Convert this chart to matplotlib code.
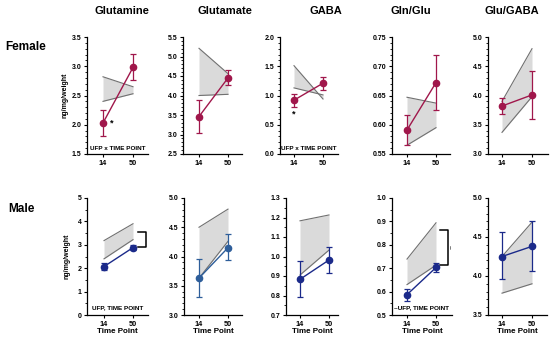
import matplotlib
matplotlib.use("Agg")
import matplotlib.pyplot as plt
from matplotlib.ticker import MultipleLocator, AutoMinorLocator, FormatStrFormatter

plt.rcParams['font.family'] = ['Liberation Sans', 'DejaVu Sans']

# ---------------- data ----------------
metabolites = ["Glutamine", "Glutamate", "GABA", "Gln/Glu", "Glu/GABA"]
time_points = ["14", "50"]

female_mean = [[2.03, 2.98], [3.46, 4.45], [0.92, 1.21], [0.591, 0.672], [3.82, 4.01]]
female_lo = [[1.81, 2.76], [3.05, 4.26], [0.81, 1.10], [0.566, 0.626], [3.68, 3.60]]
female_hi = [[2.25, 3.21], [3.89, 4.65], [1.02, 1.32], [0.617, 0.719], [3.95, 4.42]]
female_band_lo = [[2.40, 2.53], [4.00, 4.03], [1.13, 1.01], [0.565, 0.595], [3.37, 3.98]]
female_band_hi = [[2.82, 2.65], [5.21, 4.56], [1.51, 0.94], [0.647, 0.637], [3.90, 4.80]]

male_mean = [[2.07, 2.88], [3.63, 4.15], [0.883, 0.982], [0.587, 0.703], [4.25, 4.38]]
male_lo = [[1.91, 2.78], [3.30, 3.94], [0.793, 0.915], [0.561, 0.683], [3.96, 4.06]]
male_hi = [[2.23, 2.98], [3.96, 4.38], [0.977, 1.05], [0.613, 0.724], [4.56, 4.71]]
male_band_lo = [[2.40, 3.22], [3.63, 4.26], [0.905, 1.033], [0.630, 0.713], [3.78, 3.90]]
male_band_hi = [[3.18, 3.90], [4.50, 4.81], [1.183, 1.213], [0.739, 0.894], [4.25, 4.69]]

female_ylim = [(1.5, 3.5), (2.5, 5.5), (0.0, 2.0), (0.55, 0.75), (3.0, 5.0)]
female_ystep = [0.5, 0.5, 0.5, 0.05, 0.5]
female_fmt = ['%.1f', '%.1f', '%.1f', '%.2f', '%.1f']
male_ylim = [(0, 5), (3.0, 5.0), (0.7, 1.3), (0.5, 1.0), (3.5, 5.0)]
male_ystep = [1, 0.5, 0.1, 0.1, 0.5]
male_fmt = ['%d', '%.1f', '%.1f', '%.1f', '%.1f']

female_note = ["UFP x TIME POINT", None, "UFP x TIME POINT", None, None]
male_note = ["UFP, TIME POINT", None, None, "~UFP, TIME POINT", None]

# ---------------- layout (pixels) ----------------
W, H = 550, 339
fig = plt.figure(figsize=(W / 100, H / 100), dpi=100)

# left, right, x14, x50
top_pos = [(87, 148, 103, 133), (183, 242, 199, 228), (280, 338, 294, 323),
           (392, 450, 407, 436), (488, 548, 502, 532)]
bot_pos = [(87, 148, 104, 133), (184, 242, 199, 228), (286, 338, 300, 329),
           (392, 452, 407, 436), (488, 547, 502, 532)]
top_y = (37, 154)
bot_y = (198, 315)

fcol = '#A0174B'
mcols = ['#1B2A8A', '#2E5E9A', '#1B2A8A', '#1B2A8A', '#1B2A8A']
band_face = '#DADADA'
band_edge = '#707070'


def make_ax(pos, yrange):
    l, r, x14, x50 = pos
    t, b = yrange
    ax = fig.add_axes([l / W, 1 - b / H, (r - l) / W, (b - t) / H])
    span = x50 - x14
    ax.set_xlim((l - x14) / span, (r - x14) / span)
    return ax


def style(ax, ylim, step, fmt):
    ax.set_ylim(*ylim)
    ax.yaxis.set_major_locator(MultipleLocator(step))
    ax.yaxis.set_minor_locator(AutoMinorLocator(5 if step in (0.5, 0.05) else 2))
    ax.yaxis.set_major_formatter(FormatStrFormatter(fmt))
    ax.set_xticks([0, 1])
    ax.set_xticklabels(time_points)
    for s in ['top', 'right']:
        ax.spines[s].set_visible(False)
    for s in ['left', 'bottom']:
        ax.spines[s].set_linewidth(0.9)
    ax.tick_params(axis='both', which='major', length=2.5, width=0.8, pad=1.5,
                   labelsize=5)
    ax.tick_params(axis='y', which='minor', length=1.3, width=0.6)
    ax.tick_params(axis='x', labelsize=5.3)
    for lab in ax.get_xticklabels() + ax.get_yticklabels():
        lab.set_fontweight('bold')


def draw(ax, mean, lo, hi, blo, bhi, col):
    x = [0, 1]
    ax.fill_between(x, blo, bhi, color=band_face, lw=0, zorder=1)
    ax.plot(x, blo, color=band_edge, lw=0.8, zorder=2)
    ax.plot(x, bhi, color=band_edge, lw=0.8, zorder=2)
    yerr = [[m - a for m, a in zip(mean, lo)], [b - m for m, b in zip(mean, hi)]]
    ax.errorbar(x, mean, yerr=yerr, color=col, lw=1.0, marker='o', ms=4.5,
                capsize=2.5, elinewidth=0.9, capthick=0.9, zorder=3)


axes_top, axes_bot = [], []
for i in range(5):
    ax = make_ax(top_pos[i], top_y)
    draw(ax, female_mean[i], female_lo[i], female_hi[i],
         female_band_lo[i], female_band_hi[i], fcol)
    style(ax, female_ylim[i], female_ystep[i], female_fmt[i])
    if female_note[i]:
        ax.text(0.5, 0.045, female_note[i], transform=ax.transAxes, ha='center',
                va='center', fontsize=4.6, fontweight='bold', clip_on=False)
    axes_top.append(ax)

    ax2 = make_ax(bot_pos[i], bot_y)
    draw(ax2, male_mean[i], male_lo[i], male_hi[i],
         male_band_lo[i], male_band_hi[i], mcols[i])
    style(ax2, male_ylim[i], male_ystep[i], male_fmt[i])
    if male_note[i]:
        ax2.text(0.5, 0.06, male_note[i], transform=ax2.transAxes, ha='center',
                 va='center', fontsize=4.6, fontweight='bold', clip_on=False)
    ax2.set_xlabel("Time Point", fontsize=5.8, fontweight='bold', labelpad=0.5)
    axes_bot.append(ax2)

# y labels
axes_top[0].set_ylabel("ng/mg/weight", fontsize=5, fontweight='bold', labelpad=2)
axes_bot[0].set_ylabel("ng/mg/weight", fontsize=5, fontweight='bold', labelpad=5)

# asterisks
axes_top[0].text(0.30, 2.03, "*", fontsize=6.5, fontweight='bold', ha='center', va='center')
axes_top[2].text(0.0, 0.68, "*", fontsize=6.5, fontweight='bold', ha='center', va='center')

# brackets (male)
axb = axes_bot[0]
axb.plot([1.17, 1.45, 1.45, 1.17], [3.56, 3.56, 2.91, 2.91], color='black', lw=1.1,
         clip_on=False)
axb = axes_bot[3]
axb.plot([1.14, 1.42, 1.42, 1.14], [0.862, 0.862, 0.714, 0.714], color='black', lw=1.1,
         clip_on=False)
axb.text(1.56, 0.79, "~", fontsize=5, rotation=90, ha='center', va='center',
         clip_on=False)

# titles
title_x = [122, 225, 326, 411, 512]
for tx, name in zip(title_x, metabolites):
    fig.text(tx / W, 1 - 11 / H, name, ha='center', va='center', fontsize=8,
             fontweight='bold')

fig.text(26 / W, 1 - 47 / H, "Female", ha='center', va='center', fontsize=8.5,
         fontweight='bold')
fig.text(21 / W, 1 - 209 / H, "Male", ha='center', va='center', fontsize=8.5,
         fontweight='bold')

fig.savefig("out.png", dpi=100)
